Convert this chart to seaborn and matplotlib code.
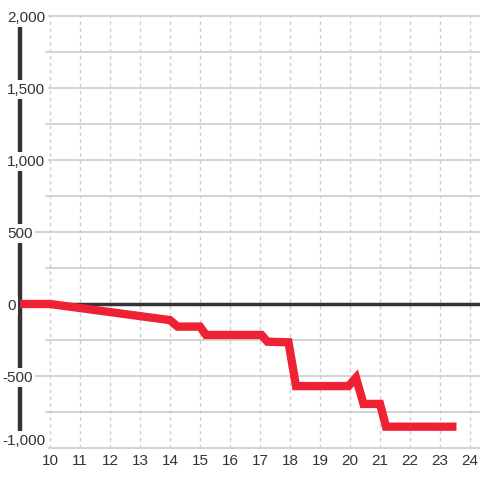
import pandas as pd
import matplotlib.pyplot as plt
import matplotlib.transforms as mtransforms
import seaborn as sns

# Data
hours = [9.0, 10.0, 14.0, 14.25, 15.0, 15.2, 17.05, 17.25, 17.95, 18.2,
         19.95, 20.2, 20.45, 21.0, 21.2, 23.55]
values = [0, 0, -112, -157, -157, -215, -215, -262, -266, -570,
          -570, -512, -694, -694, -852, -852]
x_ticks = list(range(10, 25))
y_ticks = [-1000, -500, 0, 500, 1000, 1500, 2000]
y_minor = [-750, -250, 250, 750, 1250, 1750]

df = pd.DataFrame({'hour': hours, 'value': values})

sns.set_style('white')
plt.rcParams['font.family'] = ['Liberation Sans', 'DejaVu Sans']

fig = plt.figure(figsize=(4.8, 4.8), dpi=100)
ax = fig.add_axes([20 / 480, 1 - 448 / 480, 460 / 480, 432 / 480])
ax.set_xlim(9, 9 + 460 / 30)
ax.set_ylim(-1000, 2000)
ax.set_axisbelow(False)

grid_col = '#cccccc'
dark = '#333333'

# labelled grid lines run under the labels (white box hides them),
# the others start right of the label column
for y in y_ticks:
    if y != 0:
        ax.plot([8.65, 30], [y, y], color=grid_col, lw=1.2, zorder=1, clip_on=False)
for y in y_minor:
    ax.axhline(y, xmin=26 / 460, xmax=1, color=grid_col, lw=1.2, zorder=1)
# vertical dashed grid
for x in x_ticks:
    ax.axvline(x, color=grid_col, lw=1.0, ls=(0, (2.5, 2.5)), zorder=1)

# zero line and left axis line
ax.axhline(0, color=dark, lw=2.5, zorder=1.5)
ax.axvline(9, color=dark, lw=3.2, zorder=1.5, clip_on=False)

sns.lineplot(data=df, x='hour', y='value', ax=ax, color='#ee2233',
             lw=6, zorder=3, solid_joinstyle='miter', solid_capstyle='butt')

for s in ax.spines.values():
    s.set_visible(False)

ax.set_xticks(x_ticks)
ax.set_yticks(y_ticks)
ax.set_yticklabels([f'{v:,}' for v in y_ticks])
ax.set_xlabel('')
ax.set_ylabel('')
ax.tick_params(axis='both', length=0, labelsize=11, colors=dark)
ax.tick_params(axis='y', pad=9.4)
ax.tick_params(axis='x', pad=4)

# digits start at the same x, minus signs hang to the left
shift = mtransforms.ScaledTranslation(-5 / 100, 0, fig.dpi_scale_trans)
for tick, v in zip(ax.yaxis.get_major_ticks(), y_ticks):
    lab = tick.label1
    lab.set_ha('left')
    lab.set_bbox(dict(facecolor='white', edgecolor='none', pad=2))
    if v < 0:
        lab.set_transform(lab.get_transform() + shift)
ax.yaxis.get_major_ticks()[0].label1.set_va('bottom')

fig.savefig('out.png', dpi=100)
plt.close(fig)
